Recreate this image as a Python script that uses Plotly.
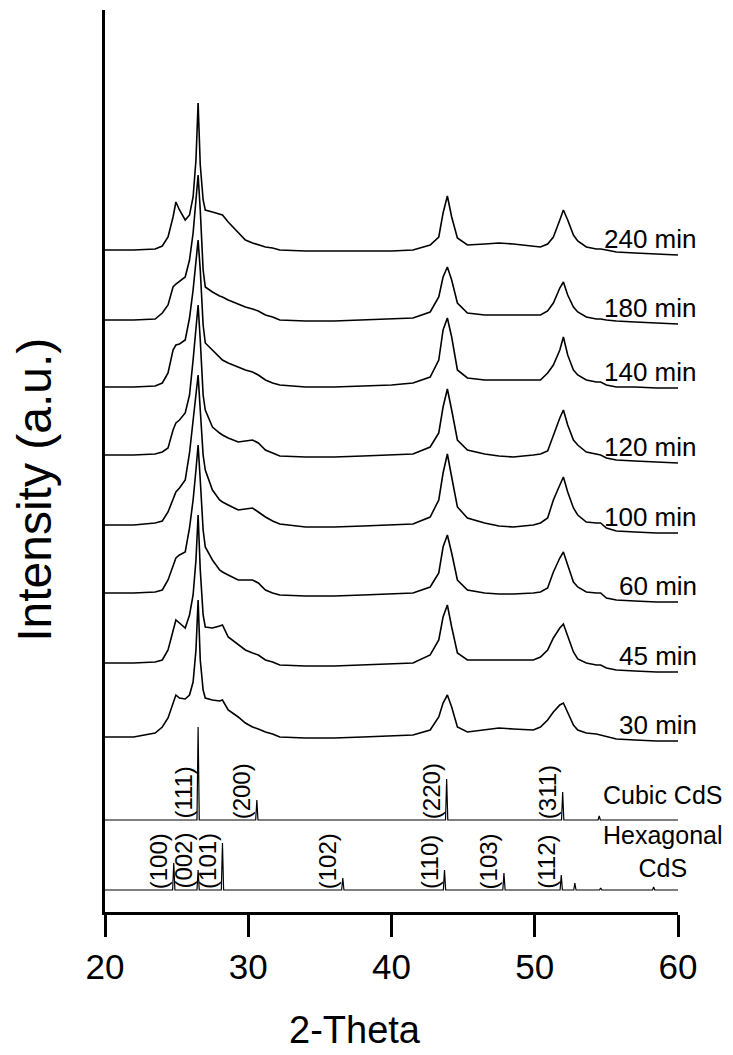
import plotly.graph_objects as go

# ---------------- data ----------------
two_theta = [20, 22, 23.5, 24.0, 24.4, 24.75, 24.95, 25.2, 25.6, 25.9, 26.15, 26.35, 26.5,
             26.65, 26.85, 27.0, 27.5, 28.0, 28.2, 28.6, 29.3, 29.8, 30.3, 30.7, 31.2, 31.7,
             32.2, 34, 36, 38, 40, 41.5, 42.7, 43.3, 43.6, 43.9, 44.2, 44.6, 45.3, 46.5, 47.5,
             48.5, 49.9, 50.4, 50.9, 51.3, 51.75, 52.0, 52.3, 52.7, 53.0, 53.6, 54.3, 54.6,
             55.0, 55.7, 57, 58.5, 60]

sample_labels = ["240 min", "180 min", "140 min", "120 min", "100 min", "60 min", "45 min", "30 min"]
sample_offsets = [662, 592, 525, 457, 387, 319, 249, 175]

i_240 = [0, 0, 1, 4, 13, 33, 48, 40, 30, 35, 53, 90, 147, 85, 50, 40, 38, 36, 35, 28, 18, 10, 7, 5, 3, 2,
         0, -1, -1, -1, -1, 0, 5, 13, 37, 54, 33, 12, 5, 6, 7, 6, 4, 3, 6, 13, 30, 40, 30, 15, 9, 3, 1, 1,
         0, -2, -3, -4, -5]
i_180 = [0, 0, 1, 7, 15, 33, 36, 39, 43, 60, 87, 120, 145, 110, 50, 33, 28, 24, 23, 20, 16, 13, 11, 9, 5, 3,
         0, -1, -1, 0, 1, 2, 8, 23, 43, 53, 40, 17, 7, 5, 5, 5, 5, 5, 9, 17, 32, 38, 25, 13, 8, 3, 1, 1,
         0, -1, -2, -3, -4]
i_140 = [0, 0, 1, 4, 14, 37, 42, 43, 47, 69, 97, 127, 147, 117, 62, 44, 37, 29, 27, 24, 20, 17, 15, 12, 7, 4,
         2, 0, 0, 1, 2, 4, 10, 27, 57, 69, 50, 17, 9, 7, 7, 7, 7, 7, 14, 22, 37, 50, 32, 17, 12, 7, 5, 5,
         2, 0, 0, -1, -1]
i_120 = [0, 0, 1, 3, 7, 25, 32, 35, 42, 60, 95, 125, 150, 115, 60, 45, 28, 22, 20, 17, 13, 14, 15, 12, 5, 2,
         -1, -2, -2, -1, 0, 1, 8, 22, 48, 66, 45, 15, 5, 1, -1, -2, 0, 1, 4, 20, 37, 45, 30, 15, 10, 3, 1, 0,
         -3, -5, -6, -7, -8]
i_100 = [0, 0, 2, 4, 13, 27, 33, 37, 45, 72, 105, 125, 150, 115, 70, 55, 35, 25, 23, 20, 15, 16, 17, 13, 8, 4,
         1, -2, -2, -1, 0, 1, 8, 25, 52, 71, 48, 18, 7, 2, -1, -2, 0, 2, 7, 25, 40, 48, 33, 17, 10, 3, 2, 2,
         -3, -6, -7, -8, -8]
i_60 = [0, 0, 1, 3, 13, 28, 35, 38, 41, 65, 93, 123, 148, 113, 63, 46, 33, 23, 21, 18, 13, 13, 13, 10, 3, 0,
        -2, -3, -3, -2, -1, 0, 6, 20, 46, 58, 40, 13, 3, 0, -1, -1, 0, 1, 5, 21, 35, 41, 28, 11, 6, 1, 0, 0,
        -5, -7, -8, -9, -9]
i_45 = [0, 0, 1, 3, 13, 33, 43, 40, 35, 48, 68, 103, 148, 93, 48, 36, 35, 37, 38, 26, 18, 13, 10, 8, 3, 1,
        -2, -3, -3, -2, -1, 0, 8, 23, 46, 58, 36, 10, 3, 3, 3, 3, 3, 6, 13, 25, 35, 39, 26, 11, 4, 0, -2, -2,
        -5, -7, -8, -9, -9]
i_30 = [0, 0, 4, 10, 19, 34, 42, 39, 38, 42, 55, 87, 137, 77, 47, 39, 37, 36, 37, 27, 20, 14, 10, 8, 5, 3,
        0, -1, -1, 0, 1, 2, 7, 20, 34, 42, 30, 10, 5, 7, 9, 8, 7, 10, 17, 25, 32, 34, 24, 12, 7, 4, 3, 2,
        0, -2, -3, -4, -4]
sample_intensities = [i_240, i_180, i_140, i_120, i_100, i_60, i_45, i_30]

cubic_offset = 92
cubic_pos = [26.5, 30.6, 43.85, 51.95, 54.5]
cubic_int = [93, 20, 41, 28, 4]
cubic_hkl = ["(111)", "(200)", "(220)", "(311)", ""]

hex_offset = 22
hex_pos = [24.8, 26.5, 28.2, 36.6, 43.7, 47.85, 51.85, 52.8, 54.6, 58.3]
hex_int = [27, 20, 47, 12, 20, 17, 15, 7, 2, 3]
hex_hkl = ["(100)", "(002)", "(101)", "(102)", "(110)", "(103)", "(112)", "", "", ""]

x_ticks = [20, 30, 40, 50, 60]

FONT = "Liberation Sans, Arial, sans-serif"


def stick_profile(pos, inten, base, x0=20, x1=60, half=0.08):
    xs, ys = [x0], [base]
    for p, h in sorted(zip(pos, inten)):
        xs += [p - half, p, p + half]
        ys += [base, base + h, base]
    xs.append(x1)
    ys.append(base)
    return xs, ys


fig = go.Figure()
annotations = []

for lab, off, vals in zip(sample_labels, sample_offsets, sample_intensities):
    fig.add_trace(go.Scatter(x=two_theta, y=[off + v for v in vals], mode="lines",
                             line=dict(color="black", width=1.6), showlegend=False,
                             hoverinfo="skip"))
    annotations.append(dict(x=60, y=off + vals[-1] + 16, xref="x", yref="y", text=lab,
                            showarrow=False, xanchor="right", yanchor="middle", xshift=21,
                            font=dict(family=FONT, size=26, color="black")))

for pos, inten, base, hkls in [(cubic_pos, cubic_int, cubic_offset, cubic_hkl),
                               (hex_pos, hex_int, hex_offset, hex_hkl)]:
    xs, ys = stick_profile(pos, inten, base)
    fig.add_trace(go.Scatter(x=xs, y=ys, mode="lines", line=dict(color="black", width=1.2),
                             showlegend=False, hoverinfo="skip"))
    for p, h in zip(pos, hkls):
        if h:
            annotations.append(dict(x=p, y=base, xref="x", yref="y", text=h, textangle=-90,
                                    showarrow=False, xanchor="right", yanchor="bottom",
                                    xshift=-1, yshift=0, borderpad=0,
                                    font=dict(family=FONT, size=24, color="black")))

annotations.append(dict(x=60, y=cubic_offset + 25, xref="x", yref="y", text="Cubic CdS",
                        showarrow=False, xanchor="center", yanchor="middle", xshift=-15,
                        font=dict(family=FONT, size=25, color="black")))
annotations.append(dict(x=60, y=hex_offset + 39, xref="x", yref="y", text="Hexagonal<br>CdS",
                        showarrow=False, xanchor="center", yanchor="middle", xshift=-15,
                        align="center", font=dict(family=FONT, size=25, color="black")))

# axis titles
annotations.append(dict(x=0.436, y=0, xref="paper", yref="paper", text="2-Theta",
                        showarrow=False, xanchor="center", yanchor="middle", yshift=-118,
                        font=dict(family=FONT, size=38, color="black")))
annotations.append(dict(x=0, y=0.468, xref="paper", yref="paper", text="Intensity (a.u.)",
                        textangle=-90, showarrow=False, xanchor="center", yanchor="middle",
                        xshift=-70, font=dict(family=FONT, size=48, color="black")))

# the page body has an 8 px margin, so the figure is sized to fill the rest of the window
fig.update_layout(
    width=725, height=1047,
    margin=dict(l=97, r=55, t=2, b=143),
    paper_bgcolor="white", plot_bgcolor="white",
    annotations=annotations,
    xaxis=dict(range=[20, 60], tickvals=x_ticks, ticks="outside", ticklen=22, tickwidth=3,
               tickcolor="black", showline=True, linewidth=3, linecolor="black",
               showgrid=False, zeroline=False,
               tickfont=dict(family=FONT, size=35, color="black")),
    yaxis=dict(range=[0, 902], showticklabels=False, ticks="", showline=True, linewidth=3,
               linecolor="black", showgrid=False, zeroline=False),
)

fig.write_html("out.html")
